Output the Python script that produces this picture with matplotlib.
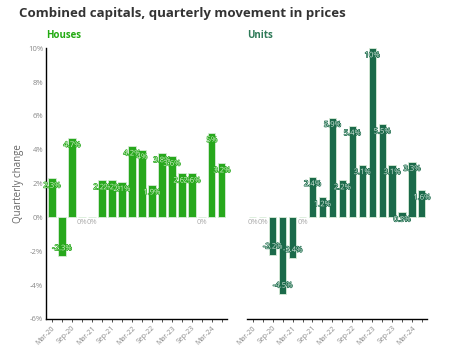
import matplotlib
matplotlib.use('Agg')
from matplotlib import pyplot as plt
import matplotlib.patheffects as pe

plt.rcParams['font.family'] = ['Open Sans', 'DejaVu Sans']

quarters = ['Mar-20', 'Jun-20', 'Sep-20', 'Dec-20', 'Mar-21', 'Jun-21',
            'Sep-21', 'Dec-21', 'Mar-22', 'Jun-22', 'Sep-22', 'Dec-22',
            'Mar-23', 'Jun-23', 'Sep-23', 'Dec-23', 'Mar-24', 'Jun-24']
houses = [2.3, -2.3, 4.7, 0, 0, 2.2, 2.2, 2.1, 4.2, 4.0, 1.9, 3.8,
          3.6, 2.6, 2.6, 0, 5.0, 3.2]
units = [0, 0, -2.2, -4.5, -2.4, 0, 2.4, 1.2, 5.9, 2.2, 5.4, 3.1,
         10.0, 5.5, 3.1, 0.3, 3.3, 1.6]

house_col = '#27a81c'
unit_col = '#1b6a4a'

fig = plt.figure(figsize=(4.64, 3.49), dpi=100)
fig.text(0.042, 0.962, 'Combined capitals, quarterly movement in prices',
         fontsize=9.5, fontweight='bold', color='#333333', va='center')

ax1 = fig.add_axes([0.099, 0.086, 0.390, 0.776])
ax2 = fig.add_axes([0.532, 0.086, 0.388, 0.776])


def fmt(v):
    s = '%.1f' % v
    if s.endswith('.0'):
        s = s[:-2]
    return s + '%'


def draw_panel(ax, vals, col, halo, name, name_col, show_y):
    x = list(range(len(vals)))
    ax.bar(x, vals, width=0.72, color=col, edgecolor='#d8ecd8', linewidth=0.6)
    for i, v in enumerate(vals):
        if v == 0:
            ax.text(i, -0.3, '0%', ha='center', va='center', fontsize=5.5,
                    color='#aaaaaa')
        else:
            y = v - 0.45 if v > 0 else v + 0.45
            t = ax.text(i, y, fmt(v), ha='center', va='center', fontsize=5.5,
                        color=halo)
            t.set_path_effects([pe.withStroke(linewidth=0.9, foreground=col)])
    ax.set_ylim(-6, 10)
    ax.set_xlim(-0.6, 17.5)
    ax.set_xticks(x)
    ax.set_xticklabels([q if i % 2 == 0 else '' for i, q in enumerate(quarters)],
                       rotation=45, ha='right', rotation_mode='anchor',
                       fontsize=5, color='#888888')
    ax.tick_params(axis='x', length=2, width=0.6, color='#333333', pad=2)
    for s in ['top', 'right']:
        ax.spines[s].set_visible(False)
    ax.spines['bottom'].set_color('black')
    ax.spines['bottom'].set_linewidth(1)
    if show_y:
        ax.set_yticks(range(-6, 11, 2))
        ax.set_yticklabels(['%d%%' % v for v in range(-6, 11, 2)],
                           fontsize=5.5, color='#888888')
        ax.tick_params(axis='y', length=0, pad=2)
        ax.spines['left'].set_color('black')
        ax.spines['left'].set_linewidth(1)
        ax.set_ylabel('Quarterly change', fontsize=7, color='#666666', labelpad=3)
    else:
        ax.set_yticks([])
        ax.spines['left'].set_visible(False)
    ax.text(0.0, 1.045, name, transform=ax.transAxes, fontsize=7,
            fontweight='bold', color=name_col, va='center', ha='left')


draw_panel(ax1, houses, house_col, '#d6f2cf', 'Houses', '#22aa11', True)
draw_panel(ax2, units, unit_col, '#d2e6dc', 'Units', '#2e7a58', False)

fig.savefig('out.png', dpi=100)
